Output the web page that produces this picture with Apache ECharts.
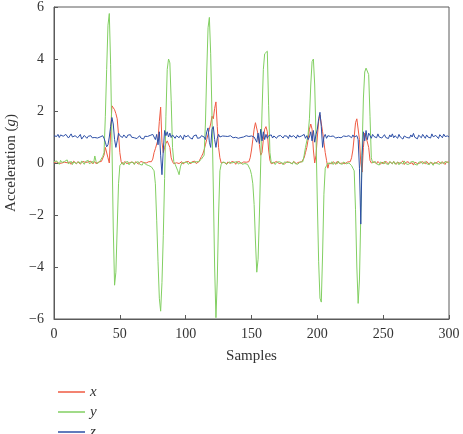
<!DOCTYPE html>
<html>
<head>
<meta charset="utf-8">
<script src="https://cdn.jsdelivr.net/npm/echarts@6/dist/echarts.min.js"></script>
<style>
  html, body { margin: 0; padding: 0; background: #fff; }
  #chart { width: 463px; height: 434px; }
</style>
</head>
<body>
<div id="chart"></div>
<script>
// 读图估计的数据：每个样本一个值（0 ~ 300）
var xTicks = [0, 50, 100, 150, 200, 250, 300];
var yTicks = [-6, -4, -2, 0, 2, 4, 6];

// x 轴加速度（红）
var accX = [
  0.02, -0.03, 0.04, 0.01, -0.02, 0.05, 0.00, -0.04, 0.03, 0.06,
  0.01, -0.02, 0.04, -0.05, 0.02, 0.07, 0.00, -0.03, 0.05, 0.01,
  -0.04, 0.03, 0.06, -0.01, 0.02, -0.05, 0.04, 0.00, 0.07, -0.02,
  0.03, 0.05, -0.03, 0.01, 0.04, 0.02, 0.06, 0.05, 0.30, 0.60,
  0.60, 0.20, 0.00, 1.20, 2.20, 2.15, 2.05, 1.90, 1.70, 1.10,
  0.40, 0.05, -0.04, 0.03, 0.06, -0.02, 0.05, 0.00, -0.05, 0.04,
  0.02, -0.03, 0.05, 0.01, -0.04, 0.03, 0.06, -0.01, 0.02, 0.04,
  0.00, 0.03, 0.05, 0.02, 0.05, 0.15, 0.40, 0.55, 0.60, 0.90,
  1.60, 2.15, 0.80, 0.40, 0.60, 0.75, 0.85, 0.80, 0.60, 0.20,
  0.05, -0.03, 0.04, 0.01, 0.06, -0.02, 0.03, 0.05, -0.04, 0.02,
  0.04, -0.01, 0.06, 0.00, -0.03, 0.05, 0.02, 0.07, -0.02, 0.03,
  0.05, 0.10, 0.25, 0.35, 0.50, 0.70, 0.90, 1.10, 1.30, 1.50,
  1.80, 1.70, 2.10, 2.35, 1.40, 0.60, 0.20, 0.00, -0.05, 0.03,
  0.01, -0.04, 0.04, 0.02, -0.02, 0.06, 0.00, 0.03, -0.05, 0.04,
  0.02, 0.05, -0.03, 0.01, 0.04, -0.02, 0.03, 0.00, 0.05, 0.20,
  0.50, 0.90, 1.30, 1.55, 1.60, 1.10, 0.70, 0.30, 0.40, 0.90,
  1.30, 1.40, 1.20, 0.50, 0.10, -0.03, 0.04, 0.01, -0.05, 0.06,
  0.02, -0.02, 0.05, 0.00, 0.07, -0.04, 0.03, 0.05, -0.01, 0.02,
  0.04, -0.03, 0.06, 0.01, -0.02, 0.05, 0.03, 0.00, 0.04, 0.05,
  0.20, 0.40, 0.60, 0.90, 1.30, 1.50, 1.30, 0.50, 0.00, 0.30,
  1.00, 1.60, 1.85, 1.80, 1.20, 0.80, 0.40, 0.10, -0.20, 0.00,
  0.04, -0.03, 0.05, 0.02, -0.05, 0.06, 0.01, -0.02, 0.04, 0.00,
  0.05, -0.03, 0.02, 0.04, 0.00, 0.05, 0.20, 0.50, 1.00, 1.55,
  1.70, 1.65, 0.90, 0.00, -0.35, 0.60, 1.15, 1.00, 1.05, 0.60,
  0.10, 0.00, -0.04, 0.05, 0.02, -0.03, 0.06, 0.01, -0.05, 0.03,
  0.04, -0.02, 0.07, 0.00, -0.04, 0.05, 0.02, -0.03, 0.06, 0.01,
  -0.05, 0.03, 0.05, -0.02, 0.04, 0.08, -0.06, 0.02, 0.00, 0.05,
  -0.03, 0.04, 0.01, -0.08, 0.03, 0.06, -0.02, 0.04, 0.00, -0.04,
  0.05, 0.02, -0.03, 0.06, 0.01, -0.05, 0.03, 0.04, -0.02, 0.05,
  0.00, -0.04, 0.06, 0.02, -0.03, 0.05, 0.01, -0.06, 0.04, 0.02,
  0.03
];

// y 轴加速度（绿）
var accY = [
  0.05, -0.02, 0.08, 0.03, -0.05, 0.10, 0.02, -0.03, 0.06, 0.00,
  0.12, -0.04, 0.03, 0.07, -0.06, 0.04, 0.09, -0.02, 0.01, 0.05,
  -0.03, 0.08, 0.02, -0.05, 0.06, 0.00, 0.10, -0.04, 0.03, 0.07,
  -0.02, 0.27, 0.05, -0.03, 0.04, 0.08, 0.15, 0.25, 0.40, 1.80,
  3.60, 5.30, 5.75, 3.80, 0.80, -2.50, -4.70, -4.20, -2.50, -0.80,
  -0.10, -0.05, 0.03, -0.08, 0.02, -0.04, 0.06, -0.07, 0.01, -0.03,
  0.04, -0.06, 0.02, -0.02, 0.05, -0.05, 0.00, -0.08, 0.03, -0.04,
  -0.06, -0.05, -0.10, -0.12, -0.15, -0.20, -0.30, -0.80, -2.20, -3.80,
  -5.20, -5.70, -4.60, -2.80, -0.60, 1.80, 3.60, 4.00, 3.85, 2.40,
  0.60, 0.05, -0.05, -0.10, -0.30, -0.45, -0.15, 0.00, -0.04, 0.02,
  -0.03, 0.04, -0.05, 0.01, 0.03, -0.04, 0.02, -0.02, 0.05, 0.00,
  0.05, 0.10, 0.15, 0.20, 0.30, 1.50, 3.50, 5.20, 5.60, 4.20,
  1.80, -1.00, -4.00, -5.95, -4.50, -2.00, -0.30, -0.05, 0.03, -0.04,
  0.02, -0.06, 0.01, 0.04, -0.03, 0.00, -0.05, 0.03, -0.02, 0.05,
  -0.04, 0.01, 0.03, -0.05, 0.02, -0.02, 0.00, -0.05, -0.10, -0.25,
  -0.45, -0.80, -1.60, -3.00, -4.20, -3.70, -2.00, 0.00, 2.00, 3.60,
  4.20, 4.25, 4.30, 2.20, 0.40, 0.00, -0.04, 0.03, -0.06, 0.02,
  -0.03, 0.05, -0.02, 0.01, -0.07, 0.04, -0.03, 0.02, -0.05, 0.03,
  0.00, -0.04, 0.06, -0.02, 0.03, -0.05, 0.01, 0.04, 0.00, 0.05,
  0.30, 0.60, 0.85, 1.10, 1.70, 3.00, 3.90, 4.00, 3.00, 1.00,
  -1.50, -3.80, -5.20, -5.35, -3.50, -1.20, -0.20, -0.10, 0.00, 0.04,
  -0.03, 0.05, -0.06, 0.02, 0.00, -0.04, 0.07, -0.02, 0.03, -0.05,
  0.04, 0.01, -0.03, 0.02, 0.00, -0.05, -0.10, -0.20, -0.30, -1.80,
  -4.00, -5.40, -4.50, -2.00, 0.50, 2.50, 3.50, 3.65, 3.60, 3.40,
  1.80, 0.20, 0.00, -0.05, 0.06, -0.03, 0.02, -0.08, 0.04, 0.01,
  -0.04, 0.07, -0.02, 0.03, -0.06, 0.05, 0.00, -0.03, 0.06, -0.05,
  0.02, 0.04, -0.07, 0.03, 0.00, -0.04, 0.08, -0.02, 0.05, -0.06,
  0.01, 0.04, -0.03, 0.06, -0.05, 0.02, -0.08, 0.03, 0.00, 0.05,
  -0.04, 0.02, 0.06, -0.03, 0.01, -0.06, 0.04, 0.00, -0.09, 0.03,
  0.05, -0.02, 0.01, -0.05, 0.04, 0.02, -0.03, 0.06, -0.01, 0.02,
  0.00
];

// z 轴加速度（蓝）
var accZ = [
  1.05, 1.12, 1.02, 1.10, 0.98, 1.08, 1.15, 1.03, 1.00, 1.10,
  1.06, 0.96, 1.04, 1.12, 1.00, 0.94, 1.05, 1.08, 0.97, 1.02,
  1.10, 0.92, 0.99, 1.06, 1.00, 0.95, 1.03, 1.00, 1.05, 0.97,
  1.02, 0.98, 1.04, 0.96, 1.03, 1.00, 0.95, 1.05, 0.95, 0.80,
  0.62, 0.70, 1.00, 1.40, 1.75, 1.50, 0.90, 0.60, 0.85, 1.15,
  1.05, 1.10, 0.98, 1.08, 1.03, 0.96, 1.07, 1.02, 1.09, 0.99,
  1.04, 0.97, 1.02, 0.94, 1.00, 1.05, 0.96, 0.99, 0.92, 1.03,
  0.98, 1.02, 0.95, 1.06, 1.00, 1.10, 1.00, 0.90, 1.10, 0.70,
  1.20, 0.30, -0.45, 0.50, 1.25, 1.05, 1.20, 1.00, 1.15, 0.98,
  1.08, 1.12, 0.95, 1.05, 1.10, 0.97, 1.06, 1.02, 0.90, 1.08,
  1.00, 0.94, 1.06, 0.98, 1.03, 0.92, 1.04, 0.99, 1.08, 0.95,
  1.02, 0.97, 1.05, 0.98, 1.00, 0.90, 1.20, 1.35, 0.80, 0.60,
  1.30, 1.40, 0.90, 0.60, 0.95, 1.10, 1.00, 0.97, 1.04, 1.00,
  1.03, 0.98, 1.02, 0.96, 1.05, 1.00, 0.97, 1.03, 0.99, 1.06,
  0.95, 1.02, 0.98, 1.04, 1.00, 0.97, 1.05, 0.99, 1.02, 0.96,
  1.04, 0.98, 1.00, 1.00, 0.80, 1.15, 0.75, 1.30, 0.85, 1.20,
  0.90, 1.10, 0.95, 1.05, 0.98, 1.08, 0.96, 1.04, 1.00, 0.95,
  1.03, 0.98, 1.06, 1.00, 0.96, 1.05, 0.99, 1.03, 0.94, 1.08,
  1.00, 0.97, 1.05, 1.02, 0.95, 1.08, 1.00, 0.96, 1.04, 0.98,
  1.10, 0.95, 1.05, 0.90, 1.00, 1.20, 0.85, 1.25, 0.80, 1.10,
  1.30, 1.70, 1.95, 1.40, 0.60, 1.00, 1.10, 0.95, 1.05, 0.98,
  1.02, 0.97, 1.04, 1.00, 0.96, 1.03, 0.99, 1.06, 0.97, 1.01,
  1.04, 0.98, 1.02, 0.95, 1.05, 1.00, 0.97, 1.08, 1.00, 0.95,
  1.05, 0.90, -0.20, -2.35, 0.30, 1.20, 0.85, 1.25, 0.90, 1.15,
  1.05, 0.95, 1.10, 1.02, 1.06, 0.97, 1.12, 1.00, 1.05, 0.96,
  1.03, 1.09, 0.98, 1.04, 0.94, 1.08, 1.00, 1.12, 0.97, 1.05,
  1.02, 0.95, 1.10, 1.00, 1.06, 0.92, 1.04, 1.11, 0.98, 1.03,
  0.96, 1.08, 1.00, 1.14, 0.99, 1.05, 0.93, 1.07, 1.02, 0.97,
  1.10, 1.03, 0.95, 1.08, 1.00, 1.05, 0.96, 1.12, 1.01, 0.98,
  1.06, 1.00, 0.94, 1.09, 1.03, 0.97, 1.11, 1.02, 0.95, 1.04,
  1.00
];

var seriesNames = ['x', 'y', 'z'];
var seriesColors = ['#ef5a42', '#82cf62', '#2d4fa6'];

function toPairs(arr) {
  var out = [];
  for (var i = 0; i < arr.length; i++) {
    out.push([i, arr[i]]);
  }
  return out;
}

var serif = '"Liberation Serif", "DejaVu Serif", serif';
var chart = echarts.init(document.getElementById('chart'));

var option = {
  animation: false,
  grid: {
    left: 54, right: 14, top: 7, bottom: 115,
    show: true, borderColor: '#5a5a5a', borderWidth: 1,
    containLabel: false,
    outerBoundsMode: 'none'
  },
  legend: {
    orient: 'vertical',
    left: 53,
    top: 379,
    height: 90,
    icon: 'rect',
    itemWidth: 27,
    itemHeight: 1.5,
    itemGap: 4,
    data: seriesNames,
    textStyle: { fontFamily: serif, fontStyle: 'italic', fontSize: 15, color: '#333', lineHeight: 16 }
  },
  xAxis: {
    type: 'value',
    min: xTicks[0],
    max: xTicks[xTicks.length - 1],
    interval: 50,
    name: 'Samples',
    nameLocation: 'middle',
    nameGap: 30,
    nameTextStyle: { fontFamily: serif, fontSize: 15, color: '#333' },
    axisLine: { show: true, onZero: false, lineStyle: { color: '#5a5a5a' } },
    axisTick: { show: true, inside: true, length: 4, lineStyle: { color: '#5a5a5a' } },
    axisLabel: { fontFamily: serif, fontSize: 14, color: '#333', margin: 8 },
    splitLine: { show: false }
  },
  yAxis: {
    type: 'value',
    min: yTicks[0],
    max: yTicks[yTicks.length - 1],
    interval: 2,
    name: 'Acceleration ({i|g})',
    nameLocation: 'middle',
    nameGap: 31,
    nameTextStyle: {
      fontFamily: serif, fontSize: 15, color: '#333',
      rich: { i: { fontFamily: serif, fontSize: 15, fontStyle: 'italic', color: '#333' } }
    },
    axisLine: { show: true, onZero: false, lineStyle: { color: '#5a5a5a' } },
    axisTick: { show: true, inside: true, length: 4, lineStyle: { color: '#5a5a5a' } },
    axisLabel: {
      fontFamily: serif, fontSize: 14, color: '#333', margin: 10,
      formatter: function (v) { return v < 0 ? '\u2212' + Math.abs(v) : String(v); }
    },
    splitLine: { show: false }
  },
  series: [accX, accY, accZ].map(function (arr, k) {
    return {
      name: seriesNames[k],
      type: 'line',
      data: toPairs(arr),
      symbol: 'none',
      color: seriesColors[k],
      lineStyle: { width: 1, color: seriesColors[k] }
    };
  })
};

chart.setOption(option);
</script>
</body>
</html>
